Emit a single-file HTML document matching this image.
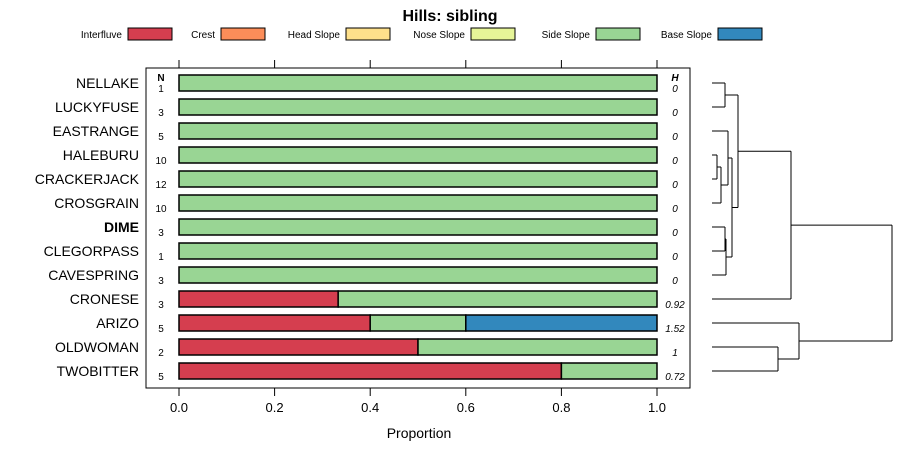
<!DOCTYPE html>
<html><head><meta charset="utf-8"><style>
body{margin:0;background:#fff;}
svg{display:block;font-family:"Liberation Sans",sans-serif;}
</style></head><body>
<svg id="c" width="900" height="460">
<text x="450" y="21" text-anchor="middle" font-size="16" font-weight="bold">Hills: sibling</text>
<g id="legend"></g>
<rect x="146" y="68" width="544" height="320" fill="none" stroke="#000" stroke-width="1"/>
<g id="axes"></g>
<g id="bars"></g>
<g id="dendro"></g>
<text x="419" y="438" text-anchor="middle" font-size="14">Proportion</text>
<text x="161" y="81" text-anchor="middle" font-size="10" font-weight="bold">N</text>
<text x="675" y="81" text-anchor="middle" font-size="10" font-weight="bold" font-style="italic">H</text>
</svg>
<script>
const categories=["NELLAKE","LUCKYFUSE","EASTRANGE","HALEBURU","CRACKERJACK","CROSGRAIN","DIME","CLEGORPASS","CAVESPRING","CRONESE","ARIZO","OLDWOMAN","TWOBITTER"];
const nValues=[1,3,5,10,12,10,3,1,3,3,5,2,5];
const hValues=["0","0","0","0","0","0","0","0","0","0.92","1.52","1","0.72"];
const seriesNames=["Interfluve","Crest","Head Slope","Nose Slope","Side Slope","Base Slope"];
const interfluve=[0,0,0,0,0,0,0,0,0,0.333,0.4,0.5,0.8];
const crest=[0,0,0,0,0,0,0,0,0,0,0,0,0];
const headSlope=[0,0,0,0,0,0,0,0,0,0,0,0,0];
const noseSlope=[0,0,0,0,0,0,0,0,0,0,0,0,0];
const sideSlope=[1,1,1,1,1,1,1,1,1,0.667,0.2,0.5,0.2];
const baseSlope=[0,0,0,0,0,0,0,0,0,0,0.4,0,0];
const ticks=[0,0.2,0.4,0.6,0.8,1.0];
const tickLabels=["0.0","0.2","0.4","0.6","0.8","1.0"];
const colors=["#D53E4F","#FC8D59","#FEE08B","#E6F598","#99D594","#3288BD"];
const NS="http://www.w3.org/2000/svg";
function mk(t,a,p){const e=document.createElementNS(NS,t);for(const k in a)e.setAttribute(k,a[k]);p.appendChild(e);return e;}
const xs=v=>179+v*478, ys=i=>83+i*24;
const axes=document.getElementById('axes'),bars=document.getElementById('bars');
ticks.forEach((t,i)=>{
 mk('line',{x1:xs(t),x2:xs(t),y1:60,y2:68,stroke:'#000'},axes);
 mk('line',{x1:xs(t),x2:xs(t),y1:388,y2:396,stroke:'#000'},axes);
 const tx=mk('text',{x:xs(t),y:412,'text-anchor':'middle','font-size':13},axes);
 
 
 tx.textContent=tickLabels[i];
});
const series=[interfluve,crest,headSlope,noseSlope,sideSlope,baseSlope];
categories.forEach((c,i)=>{
 const y=ys(i);
 const lb=mk('text',{x:139,y:y+5,'text-anchor':'end','font-size':14,'font-weight':c==="DIME"?'bold':'normal'},axes);
 
 
 lb.textContent=c;
 const n=mk('text',{x:161,y:y+9,'text-anchor':'middle','font-size':10},axes);
 
 
 n.textContent=nValues[i];
 const h=mk('text',{x:675,y:y+9,'text-anchor':'middle','font-size':10,'font-style':'italic'},axes);
 
 
 h.textContent=hValues[i];
 let acc=0;
 series.forEach((s,k)=>{
  if(s[i]>0){
   const r=mk('rect',{x:xs(acc),y:y-8,width:xs(acc+s[i])-xs(acc),height:16,fill:colors[k],stroke:'#000','stroke-width':1.5},bars);
   
   
   acc+=s[i];
  }
 });
});
// legend
const lg=document.getElementById('legend');
const lgSw=[128,221,346,471,596,718];
seriesNames.forEach((s,k)=>{
 const t=mk('text',{x:lgSw[k]-6,y:38,'text-anchor':'end','font-size':10},lg);
 
 
 t.textContent=s;
 const r=mk('rect',{x:lgSw[k],y:28,width:44,height:12,fill:colors[k],stroke:'#000'},lg);
 
 
});
// dendrogram
const dg=document.getElementById('dendro');
function seg(x1,y1,x2,y2){mk('line',{x1,y1,x2,y2,stroke:'#000','stroke-width':1},dg);}
function join(x,ya,xa,yb,xb){seg(xa,ya,x,ya);seg(xb,yb,x,yb);seg(x,ya,x,yb);return (ya+yb)/2;}
const L=712;
let a=join(725,ys(0),L,ys(1),L);
let b=join(717,ys(3),L,ys(4),L);
let b2=join(721,b,717,ys(5),L);
let b3=join(728,ys(2),L,b2,721);
let d=join(725,ys(6),L,ys(7),L);
let d2=join(726,d,725,ys(8),L);
let e=join(732,b3,728,d2,726);
let f=join(738,a,725,e,732);
let g=join(791,f,738,ys(9),L);
let o=join(778,ys(11),L,ys(12),L);
let p=join(799,ys(10),L,o,778);
join(892,g,791,p,799);
</script>
</body></html>
